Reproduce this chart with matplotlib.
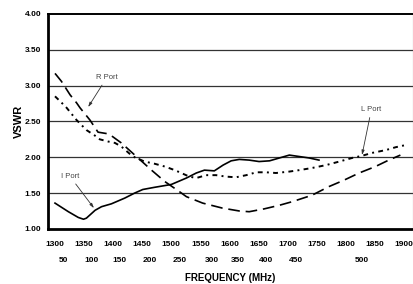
import matplotlib
matplotlib.use("Agg")
import matplotlib.pyplot as plt

# R Port (dashed)
r_freq = [1300, 1311, 1326, 1337, 1343, 1360, 1374, 1389, 1397, 1414, 1440, 1466,
          1489, 1514, 1526, 1554, 1588, 1617, 1634, 1660, 1686, 1708, 1742, 1771,
          1797, 1823, 1851, 1874, 1894]
r_vswr = [3.17, 3.06, 2.87, 2.76, 2.69, 2.52, 2.35, 2.33, 2.30, 2.20, 2.01, 1.82,
          1.66, 1.52, 1.45, 1.36, 1.29, 1.25, 1.24, 1.28, 1.33, 1.38, 1.47, 1.59,
          1.68, 1.78, 1.87, 1.96, 2.03]

# L Port (dash-dot)
l_freq = [1300, 1309, 1320, 1337, 1354, 1369, 1377, 1391, 1403, 1414, 1431, 1437,
          1454, 1471, 1489, 1506, 1531, 1543, 1560, 1577, 1594, 1611, 1629, 1646,
          1663, 1680, 1703, 1720, 1742, 1766, 1789, 1811, 1828, 1845, 1869, 1886, 1903]
l_vswr = [2.85, 2.78, 2.69, 2.52, 2.38, 2.30, 2.25, 2.22, 2.20, 2.15, 2.03, 2.00,
          1.94, 1.91, 1.87, 1.82, 1.73, 1.71, 1.75, 1.75, 1.73, 1.72, 1.75, 1.79,
          1.79, 1.78, 1.80, 1.82, 1.85, 1.89, 1.94, 1.99, 2.02, 2.06, 2.10, 2.14, 2.17]

# I Port (solid)
i_freq = [1300, 1323, 1340, 1349, 1354, 1369, 1380, 1397, 1420, 1437, 1451, 1471,
          1500, 1526, 1543, 1557, 1574, 1589, 1603, 1617, 1634, 1651, 1669, 1686,
          1703, 1720, 1737, 1754]
i_vswr = [1.36, 1.24, 1.16, 1.135, 1.15, 1.26, 1.31, 1.35, 1.43, 1.50, 1.55, 1.58,
          1.62, 1.71, 1.78, 1.82, 1.81, 1.89, 1.95, 1.97, 1.96, 1.94, 1.95, 1.99,
          2.03, 2.01, 1.99, 1.96]

lo_ticks = [1300, 1350, 1400, 1450, 1500, 1550, 1600, 1650, 1700, 1750, 1800, 1850, 1900]
if_labels = [50, 100, 150, 200, 250, 300, 350, 400, 450, 500]
if_pos = [1314, 1363, 1411, 1463, 1514, 1569, 1614, 1663, 1714, 1828]
y_ticks = [1.00, 1.50, 2.00, 2.50, 3.00, 3.50, 4.00]

plt.rcParams['font.family'] = ['Liberation Sans', 'DejaVu Sans']

fig = plt.figure(figsize=(4.14, 2.84), dpi=100)
ax = fig.add_axes([0.116, 0.194, 0.882, 0.757])

for y in y_ticks[1:-1]:
    ax.axhline(y, color='#333333', lw=0.9, zorder=1)

ax.plot(r_freq, r_vswr, color='black', lw=1.2, ls=(0, (7, 3.5)), zorder=3)
ax.plot(l_freq, l_vswr, color='black', lw=1.4, ls=(0, (2.5, 2.2, 1, 2.2)), zorder=3)
ax.plot(i_freq, i_vswr, color='black', lw=1.2, zorder=3)

ax.set_xlim(1288, 1916)
ax.set_ylim(1.0, 4.0)

ax.set_yticks(y_ticks)
ax.set_yticklabels(['%.2f' % v for v in y_ticks], fontsize=6, fontweight='bold')
ax.set_xticks(lo_ticks)
ax.set_xticklabels([str(v) for v in lo_ticks], fontsize=6, fontweight='bold')
ax.tick_params(axis='both', length=0)
ax.tick_params(axis='x', pad=8.5)
ax.tick_params(axis='y', pad=5)

xt = ax.get_xaxis_transform()
for p, lab in zip(if_pos, if_labels):
    ax.text(p, -0.145, str(lab), transform=xt, ha='center', va='center',
            fontsize=6, fontweight='bold')

ax.text(0.5, -0.228, 'FREQUENCY (MHz)', transform=ax.transAxes, ha='center',
        va='center', fontsize=7, fontweight='bold')
ax.text(-0.079, 0.5, 'VSWR', transform=ax.transAxes, ha='center', va='center',
        rotation=90, fontsize=8, fontweight='bold')

for s in ['left', 'bottom']:
    ax.spines[s].set_linewidth(2)
ax.spines['top'].set_linewidth(1.4)
ax.spines['right'].set_linewidth(0.8)
ax.spines['right'].set_color('#888888')

arrow = dict(arrowstyle='-|>,head_length=0.5,head_width=0.15', color='#333333', lw=0.6,
             shrinkA=1, shrinkB=0)
ax.annotate('R Port', xy=(1357, 2.70), xytext=(1389, 3.11), fontsize=5.5,
            color='#444444', ha='center', va='center', arrowprops=arrow)
ax.annotate('L Port', xy=(1828, 2.03), xytext=(1844, 2.66), fontsize=5.5,
            color='#444444', ha='center', va='center', arrowprops=arrow)
ax.annotate('I Port', xy=(1367, 1.29), xytext=(1326, 1.73), fontsize=5.5,
            color='#444444', ha='center', va='center', arrowprops=arrow)

fig.savefig('out.png', dpi=100)
